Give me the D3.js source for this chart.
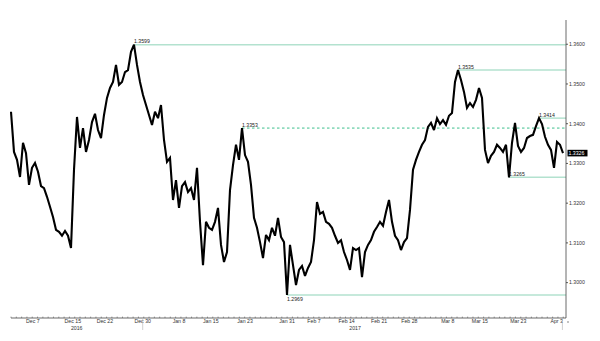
<!DOCTYPE html>
<html><head><meta charset="utf-8">
<script src="https://cdn.jsdelivr.net/npm/d3@7"></script>
<style>html,body{margin:0;padding:0;background:#fff;}svg{display:block;}</style>
</head><body>
<svg id="c" width="600" height="341"></svg>
<script>
// Price series (one value per bar, evenly spaced in time)
const prices = [
1.3430,1.3329,1.3309,1.3266,1.3352,1.3326,1.3246,1.3289,1.3301,1.3279,
1.3243,1.3238,1.3216,1.3191,1.3165,1.3133,1.3128,1.3118,1.3130,1.3118,
1.3087,1.3284,1.3417,1.3339,1.3389,1.3329,1.3359,1.3404,1.3425,1.3384,
1.3364,1.3422,1.3465,1.3490,1.3505,1.3548,1.3498,1.3505,1.3530,1.3535,
1.3581,1.3599,1.3548,1.3505,1.3472,1.3447,1.3422,1.3397,1.3430,1.3414,
1.3447,1.3359,1.3304,1.3314,1.3208,1.3258,1.3188,1.3243,1.3253,1.3228,
1.3238,1.3208,1.3289,1.3153,1.3044,1.3153,1.3138,1.3133,1.3153,1.3188,
1.3095,1.3052,1.3077,1.3233,1.3296,1.3347,1.3309,1.3389,1.3321,1.3304,
1.3246,1.3163,1.3138,1.3102,1.3062,1.3120,1.3107,1.3138,1.3118,1.3163,
1.3115,1.3102,1.2969,1.3095,1.3044,1.2994,1.3032,1.3042,1.3017,1.3037,
1.3052,1.3107,1.3203,1.3173,1.3178,1.3153,1.3148,1.3138,1.3118,1.3100,
1.3107,1.3077,1.3057,1.3032,1.3087,1.3082,1.3087,1.3014,1.3077,1.3095,
1.3107,1.3128,1.3140,1.3153,1.3143,1.3178,1.3208,1.3153,1.3118,1.3107,
1.3082,1.3102,1.3112,1.3183,1.3284,1.3309,1.3329,1.3347,1.3359,1.3392,
1.3402,1.3384,1.3414,1.3399,1.3409,1.3397,1.3420,1.3427,1.3505,1.3535,
1.3510,1.3480,1.3440,1.3452,1.3442,1.3460,1.3490,1.3465,1.3334,1.3301,
1.3319,1.3329,1.3347,1.3339,1.3329,1.3347,1.3265,1.3352,1.3402,1.3344,
1.3329,1.3339,1.3364,1.3369,1.3372,1.3394,1.3414,1.3399,1.3367,1.3347,
1.3334,1.3289,1.3354,1.3347,1.3326
];
const lastPrice = 1.3326;

// Date tick labels and their bar index
const tickLabels = ["Dec 7","Dec 15","Dec 22","Dec 30","Jan 8","Jan 15","Jan 23","Jan 31","Feb 7","Feb 14","Feb 21","Feb 28","Mar 8","Mar 15","Mar 23","Apr 3"];
const tickIndex  = [7.3,20.6,31.3,43.9,56,66.6,78,92,101,111.9,122.7,132.8,145.6,156.3,169.1,181.9];
const yearLabels = ["2016","2017"];
const yearIndex  = [21.9,114.7];
const yearBreakIndex = [43.9,183.8];

// Y ticks
const yTicks = [1.30,1.31,1.32,1.33,1.34,1.35,1.36];

// Annotated levels
const levelValues = [1.3599,1.3389,1.3535,1.3414,1.3265,1.2969];
const levelLabels = ["1.3599","1.3353","1.3535","1.3414","1.3265","1.2969"];
const levelStart  = [41,77,149,176,166,92];
const levelDashed = [false,true,false,false,false,false];
const levelBelow  = [false,false,false,false,false,true];

const svg = d3.select("#c");
const x = d3.scaleLinear().domain([0, prices.length-1]).range([11, 563]);
const y = d3.scaleLinear().domain([1.2911, 1.3661]).range([318, 20]);
const axisX = 566;
const font = "Liberation Sans, Arial, sans-serif";

// level lines
levelValues.forEach((v,i)=>{
  svg.append("line")
    .attr("x1", x(levelStart[i])).attr("x2", axisX)
    .attr("y1", y(v)).attr("y2", y(v))
    .attr("stroke", levelDashed[i] ? "#3cbf8c" : "#b3e2cf")
    .attr("stroke-width", levelDashed[i] ? 1 : 1.5)
    .attr("stroke-dasharray", levelDashed[i] ? "2.5,2.5" : null);
  svg.append("text")
    .attr("x", x(levelStart[i])).attr("y", y(v) + (levelBelow[i] ? 6.5 : -1.5))
    .attr("font-family", font).attr("font-size", 5.2).attr("fill", "#222")
    .text(levelLabels[i]);
});

// price line
svg.append("path")
  .datum(prices)
  .attr("fill","none").attr("stroke","#000").attr("stroke-width",2.1)
  .attr("stroke-linejoin","miter").attr("stroke-miterlimit",3)
  .attr("d", d3.line().x((d,i)=>x(i)).y(d=>y(d)));

// x axis
svg.append("line").attr("x1",11).attr("x2",axisX).attr("y1",318).attr("y2",318)
  .attr("stroke","#444").attr("stroke-width",0.8);
d3.range(0, prices.length, 1.77).forEach(t=>{
  svg.append("line").attr("x1",x(t)).attr("x2",x(t)).attr("y1",318).attr("y2",316.6)
    .attr("stroke","#555").attr("stroke-width",0.6);
});
tickLabels.forEach((l,i)=>{
  svg.append("text").attr("x",x(tickIndex[i])).attr("y",322.5)
    .attr("text-anchor","middle").attr("font-family",font).attr("font-size",5.2).attr("fill","#333").text(l);
});
yearLabels.forEach((l,i)=>{
  svg.append("text").attr("x",x(yearIndex[i])).attr("y",329.5)
    .attr("text-anchor","middle").attr("font-family",font).attr("font-size",5.2).attr("fill","#333").text(l);
});
yearBreakIndex.forEach((t,i)=>{
  svg.append("line").attr("x1",x(t)).attr("x2",x(t)).attr("y1",i===0?318:323).attr("y2",330)
    .attr("stroke","#bbb").attr("stroke-width",0.7);
});

// y axis
svg.append("line").attr("x1",axisX).attr("x2",axisX).attr("y1",20).attr("y2",318)
  .attr("stroke","#444").attr("stroke-width",0.8);
yTicks.forEach(v=>{
  svg.append("line").attr("x1",axisX).attr("x2",axisX+2).attr("y1",y(v)).attr("y2",y(v))
    .attr("stroke","#333").attr("stroke-width",0.8);
  svg.append("text").attr("x",axisX+3).attr("y",y(v)+1.8)
    .attr("font-family",font).attr("font-size",5.2).attr("fill","#333").text(v.toFixed(4));
});
svg.append("line").attr("x1",axisX+1).attr("x2",axisX+3).attr("y1",322).attr("y2",322)
  .attr("stroke","#555").attr("stroke-width",0.7);

// last price box
svg.append("rect").attr("x",axisX+1.5).attr("y",y(lastPrice)-3.3).attr("width",20).attr("height",6.6).attr("fill","#000");
svg.append("text").attr("x",axisX+2.5).attr("y",y(lastPrice)+1.9)
  .attr("font-family",font).attr("font-size",5.2).attr("fill","#fff").text(lastPrice.toFixed(4));
</script>
</body></html>
